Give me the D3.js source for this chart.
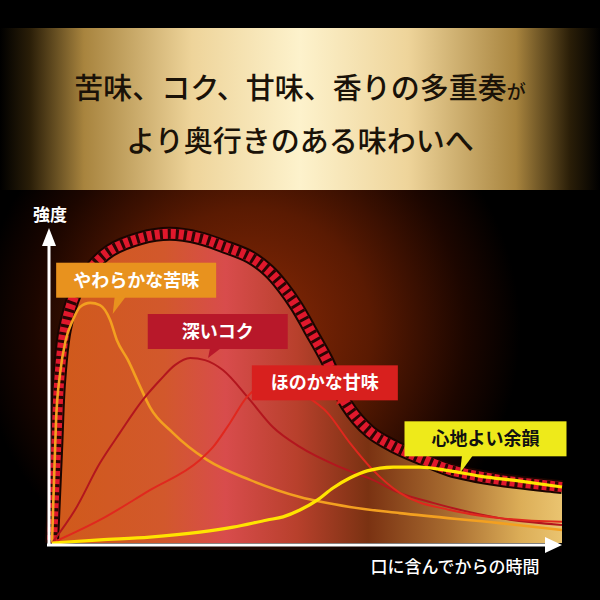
<!DOCTYPE html>
<html><head><meta charset="utf-8">
<script src="https://cdn.jsdelivr.net/npm/d3@7/dist/d3.min.js"></script>
<style>html,body{margin:0;padding:0;background:#000;}svg{display:block;}</style>
</head><body>
<svg id="c" width="600" height="600"></svg>
<script>
// ---- data (time 0..100, intensity 0..100) ----
const titleLines = ["苦味、コク、甘味、香りの多重奏", "より奥行きのある味わいへ"];
const titleTail = "が";
const yAxisLabel = "強度";
const xAxisLabel = "口に含んでからの時間";

const envelope = [[0,0],[0.8,30],[1.4,52],[2.5,68.5],[4.5,80],[7.5,88],[11.4,94],[17.3,98],[23.1,99.4],[29,98],[33.5,95.5],[38.8,92],[42.5,87.5],[45.3,82.3],[48,76],[50.6,68.5],[53.9,58.8],[57.8,44.4],[62.4,35.7],[66.9,31.2],[72.2,27.3],[78,23.5],[87.8,20.3],[100,18]];
const bitter = [[0,0],[0.4,20.3],[0.8,39.5],[1.6,54.7],[2.7,65.3],[4.1,71.7],[5.5,75.9],[7.5,77.2],[9.4,76.5],[11.4,71.7],[12.7,65.3],[14.9,58.8],[17.3,50.2],[19.2,43.7],[23.7,35.4],[30.4,26.7],[38.8,20.3],[48.6,14.8],[58.4,11.6],[68.2,9.6],[87.8,6.4],[100,4.2]];
const koku = [[0,0],[4.5,10.6],[9.4,25.7],[13.3,35.4],[17.8,46],[21.2,52.4],[24.1,57.2],[27.1,59.5],[30,58.8],[33.5,55.6],[38.8,46],[43.3,37.3],[48.6,30.9],[56.5,24.4],[62.9,20.3],[68.2,16.1],[74.7,12.9],[87.8,8],[100,5.8]];
const sweet = [[0,0],[9.4,7.4],[19.2,17],[29,26.7],[31.6,30.9],[34.9,38.6],[38.2,46.9],[40.8,50.5],[43.7,52.1],[46.7,51.1],[49.6,47.6],[53.9,42.1],[58.4,32.2],[62.9,23.5],[68.2,16.1],[78,10.6],[87.8,8],[100,6.8]];
const afterglow = [[0,0],[9.4,1],[19.2,1.9],[29,3.5],[35.5,5.1],[42.2,7.4],[45.3,8.4],[48.6,10.6],[52,13.8],[55.1,17.7],[58.4,20.9],[61.8,23.2],[66.9,24.4],[72.2,24.4],[78,23.2],[83.9,21.5],[91.8,19.9],[100,18]];

const seriesNames = ["やわらかな苦味", "深いコク", "ほのかな甘味", "心地よい余韻"];
const seriesData = [bitter, koku, sweet, afterglow];
// label anchor positions in data units (box centre) and pointer tip
const labelPos = [[16.5,84.5],[32.5,68],[53.5,51.5],[85,33.5]];
const pointerTip = [[11.9,73.6],[30.6,59.5],[55.7,44.4],[80,22.5]];

// ---- styles ----
const lineColors = ["#f3a020", "#b3161e", "#e0281e", "#ffe400"];
const lineWidths = [2.6, 2, 2, 3.2];
const boxColors = ["#e8921e", "#b8182a", "#d8201e", "#eeea1a"];
const boxText = ["#fff", "#fff", "#fff", "#111"];
const boxW = [160, 140, 146, 162];
const boxH = 35;

const svg = d3.select("#c");
const defs = svg.append("defs");

const x = d3.scaleLinear().domain([0,100]).range([52,562]);
const y = d3.scaleLinear().domain([0,100]).range([543,232]);

// background
svg.append("rect").attr("width",600).attr("height",600).attr("fill","#000");
const rg = defs.append("radialGradient").attr("id","glow").attr("gradientUnits","userSpaceOnUse")
  .attr("cx",250).attr("cy",330).attr("r",270);
rg.append("stop").attr("offset","0%").attr("stop-color","#8c2a06");
rg.append("stop").attr("offset","45%").attr("stop-color","#5a1a02");
rg.append("stop").attr("offset","80%").attr("stop-color","#1c0600");
rg.append("stop").attr("offset","100%").attr("stop-color","#000");
svg.append("rect").attr("x",0).attr("y",190).attr("width",600).attr("height",360).attr("fill","url(#glow)");

// banner
const bg = defs.append("linearGradient").attr("id","banner");
[["0%","#000"],["5%","#2a1e08"],["14%","#a8843e"],["32%","#eed49a"],["50%","#fdf2cc"],["68%","#eed49a"],["86%","#a8843e"],["95%","#2a1e08"],["100%","#000"]]
  .forEach(s=>bg.append("stop").attr("offset",s[0]).attr("stop-color",s[1]));
svg.append("rect").attr("x",0).attr("y",28).attr("width",600).attr("height",162).attr("fill","url(#banner)");

const t1 = svg.append("text").attr("x",300).attr("y",99).attr("text-anchor","middle")
  .attr("font-family","'Noto Sans CJK JP'").attr("font-weight",500).attr("font-size",29).attr("fill","#1a1208");
t1.append("tspan").text(titleLines[0]);
t1.append("tspan").attr("font-size",19).text(titleTail);
svg.append("text").attr("x",300).attr("y",152).attr("text-anchor","middle")
  .attr("font-family","'Noto Sans CJK JP'").attr("font-weight",500).attr("font-size",29).attr("fill","#1a1208")
  .text(titleLines[1]);

// envelope fill
const fg = defs.append("linearGradient").attr("id","fillg").attr("gradientUnits","userSpaceOnUse")
  .attr("x1",52).attr("x2",562).attr("y1",0).attr("y2",0);
[["0%","#d05a1a"],["22%","#d2582c"],["34%","#d84c4c"],["48%","#b8402c"],["62%","#7a3212"],["78%","#a86c30"],["92%","#dcae58"],["100%","#eac470"]]
  .forEach(s=>fg.append("stop").attr("offset",s[0]).attr("stop-color",s[1]));
const envCurve = d3.curveCatmullRom.alpha(0.5);
const area = d3.area().x(d=>x(d[0])).y0(y(0)).y1(d=>y(d[1])).curve(envCurve);
svg.append("path").datum(envelope).attr("d",area).attr("fill","url(#fillg)");

// hatched band
const envLine = d3.line().x(d=>x(d[0])).y(d=>y(d[1])).curve(envCurve);
svg.append("path").datum(envelope).attr("d",envLine).attr("fill","none").attr("stroke","#1a0500").attr("stroke-width",14);
svg.append("path").datum(envelope).attr("d",envLine).attr("fill","none").attr("stroke","#e0182c").attr("stroke-width",10);
svg.append("path").datum(envelope).attr("d",envLine).attr("fill","none").attr("stroke","#2a0604").attr("stroke-width",10).attr("stroke-dasharray","3 5");

// curves
const line = d3.line().x(d=>x(d[0])).y(d=>y(d[1])).curve(d3.curveMonotoneX);
seriesData.forEach((s,i)=>{
  svg.append("path").datum(s).attr("d",line).attr("fill","none")
    .attr("stroke",lineColors[i]).attr("stroke-width",lineWidths[i]);
});

// labels
seriesNames.forEach((n,i)=>{
  const cx = x(labelPos[i][0]), cy = y(labelPos[i][1]);
  const tx = x(pointerTip[i][0]), ty = y(pointerTip[i][1]);
  const g = svg.append("g");
  const bx = tx + 6;
  g.append("path").attr("d",`M${bx-4},${cy+boxH/2-1} L${bx+7},${cy+boxH/2-1} L${tx},${ty} Z`).attr("fill",boxColors[i]);
  g.append("rect").attr("x",cx-boxW[i]/2).attr("y",cy-boxH/2).attr("width",boxW[i]).attr("height",boxH).attr("fill",boxColors[i]);
  g.append("text").attr("x",cx).attr("y",cy+6.5).attr("text-anchor","middle")
    .attr("font-family","'Noto Sans CJK JP'").attr("font-weight",700).attr("font-size",18).attr("fill",boxText[i]).text(n);
});

// axes
svg.append("line").attr("x1",49).attr("x2",49).attr("y1",545).attr("y2",240).attr("stroke","#fff").attr("stroke-width",3);
svg.append("path").attr("d","M49,228 L56,246 L42,246 Z").attr("fill","#fff");
svg.append("line").attr("x1",47).attr("x2",550).attr("y1",545).attr("y2",545).attr("stroke","#fff").attr("stroke-width",3);
svg.append("path").attr("d","M562,545 L545,537 L545,553 Z").attr("fill","#fff");

svg.append("text").attr("x",50).attr("y",221).attr("text-anchor","middle")
  .attr("font-family","'Noto Sans CJK JP'").attr("font-weight",700).attr("font-size",17).attr("fill","#fff").text(yAxisLabel);
svg.append("text").attr("x",455).attr("y",573).attr("text-anchor","middle")
  .attr("font-family","'Noto Sans CJK JP'").attr("font-weight",500).attr("font-size",17).attr("fill","#fff").text(xAxisLabel);
</script>
</body></html>
